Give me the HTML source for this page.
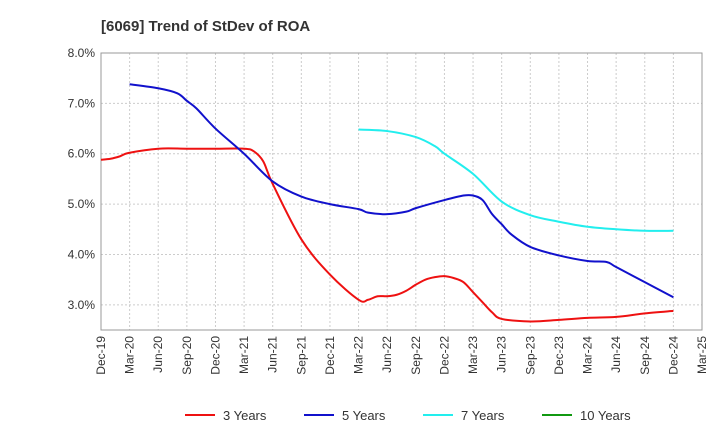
<!DOCTYPE html>
<html><head><meta charset="utf-8"><style>
body{margin:0;background:#fff;font-family:"Liberation Sans",Arial,sans-serif}
svg text{font-family:"Liberation Sans",Arial,sans-serif}
</style></head><body>
<svg id="c" width="720" height="440" xmlns="http://www.w3.org/2000/svg">
<text x="101" y="31" font-size="15" font-weight="bold" fill="#333">[6069]  Trend of StDev of ROA</text>
<g id="grid"></g><g id="axes"></g><g id="series"></g><g id="legend"></g>
</svg>
<script>
const xTickLabels=["Dec-19","Mar-20","Jun-20","Sep-20","Dec-20","Mar-21","Jun-21","Sep-21","Dec-21","Mar-22","Jun-22","Sep-22","Dec-22","Mar-23","Jun-23","Sep-23","Dec-23","Mar-24","Jun-24","Sep-24","Dec-24","Mar-25"];
const yTicks=[3,4,5,6,7,8];
const seriesNames=["3 Years","5 Years","7 Years","10 Years"];
const seriesColors=["#ee1111","#1111cc","#22eeee","#119911"];
const m3=[0,1,2,3,6,9,12,15,16,17,18,21,24,27,28,29,30,31,32,33,34,35,36,37,38,39,40,41,42,45,48,51,54,57,60];
const v3=[5.88,5.9,5.95,6.02,6.1,6.1,6.1,6.1,6.05,5.85,5.4,4.3,3.6,3.1,3.1,3.17,3.17,3.2,3.28,3.4,3.5,3.55,3.57,3.53,3.45,3.25,3.05,2.85,2.72,2.67,2.7,2.74,2.76,2.83,2.88];
const m5=[3,6,8,9,10,12,15,18,21,24,27,28,30,32,33,36,38,39,40,41,42,43,45,48,51,53,54,57,60];
const v5=[7.38,7.3,7.2,7.05,6.9,6.5,6.0,5.45,5.15,5.0,4.9,4.83,4.8,4.85,4.92,5.08,5.17,5.17,5.08,4.8,4.6,4.4,4.15,3.98,3.87,3.85,3.75,3.45,3.15];
const m7=[27,30,33,35,36,39,42,45,48,51,54,57,60];
const v7=[6.48,6.45,6.33,6.15,6.0,5.6,5.05,4.78,4.65,4.55,4.5,4.47,4.47];
const m10=[];const v10=[];
const X0=101,X1=702,Y0=53,Y1=330,YMIN=2.5,YMAX=8;
const xs=m=>X0+(X1-X0)*m/63;
const ys=v=>Y1-(Y1-Y0)*(v-YMIN)/(YMAX-YMIN);
const NS="http://www.w3.org/2000/svg";
function mk(t,a,p){const e=document.createElementNS(NS,t);for(const k in a)e.setAttribute(k,a[k]);p.appendChild(e);return e;}
const grid=document.getElementById('grid'),axes=document.getElementById('axes'),ser=document.getElementById('series'),leg=document.getElementById('legend');
mk('rect',{x:X0,y:Y0,width:X1-X0,height:Y1-Y0,fill:'none',stroke:'#999'},axes);
yTicks.forEach(v=>{const y=ys(v);
 const l=mk('line',{x1:X0,x2:X1,y1:y,y2:y,stroke:'#ccc','stroke-dasharray':'2,2'},grid);
 
 const t=mk('text',{x:X0-6,y:y+4,'text-anchor':'end','font-size':12,fill:'#333'},axes);t.textContent=v.toFixed(1)+'%';
 });
xTickLabels.forEach((s,i)=>{const x=xs(i*3);
 if(i>0&&i<xTickLabels.length-1){const l=mk('line',{x1:x,x2:x,y1:Y0,y2:Y1,stroke:'#ccc','stroke-dasharray':'2,2'},grid);
 }
 const t=mk('text',{x:x+4,y:Y1+6,'text-anchor':'end','font-size':12,fill:'#333',transform:`rotate(-90 ${x+4} ${Y1+6})`},axes);t.textContent=s;
 });
function path(ms,vs){const p=ms.map((m,i)=>[xs(m),ys(vs[i])]);if(!p.length)return '';
 let d=`M${p[0][0]},${p[0][1]}`;
 for(let i=0;i<p.length-1;i++){const a=p[i-1]||p[i],b=p[i],c=p[i+1],e=p[i+2]||c;
  d+=`C${b[0]+(c[0]-a[0])/6},${b[1]+(c[1]-a[1])/6} ${c[0]-(e[0]-b[0])/6},${c[1]-(e[1]-b[1])/6} ${c[0]},${c[1]}`;}
 return d;}
[[m3,v3],[m5,v5],[m7,v7],[m10,v10]].forEach((s,i)=>{if(!s[0].length)return;
 const e=mk('path',{d:path(s[0],s[1]),fill:'none',stroke:seriesColors[i],'stroke-width':2},ser);
 });
const lx=[185,304,423,542];
seriesNames.forEach((n,i)=>{const g=mk('g',{},leg);
 
 mk('line',{x1:lx[i],x2:lx[i]+30,y1:415,y2:415,stroke:seriesColors[i],'stroke-width':2},g);
 const t=mk('text',{x:lx[i]+38,y:420,'font-size':13,fill:'#333'},g);t.textContent=n;});
</script>
</body></html>
